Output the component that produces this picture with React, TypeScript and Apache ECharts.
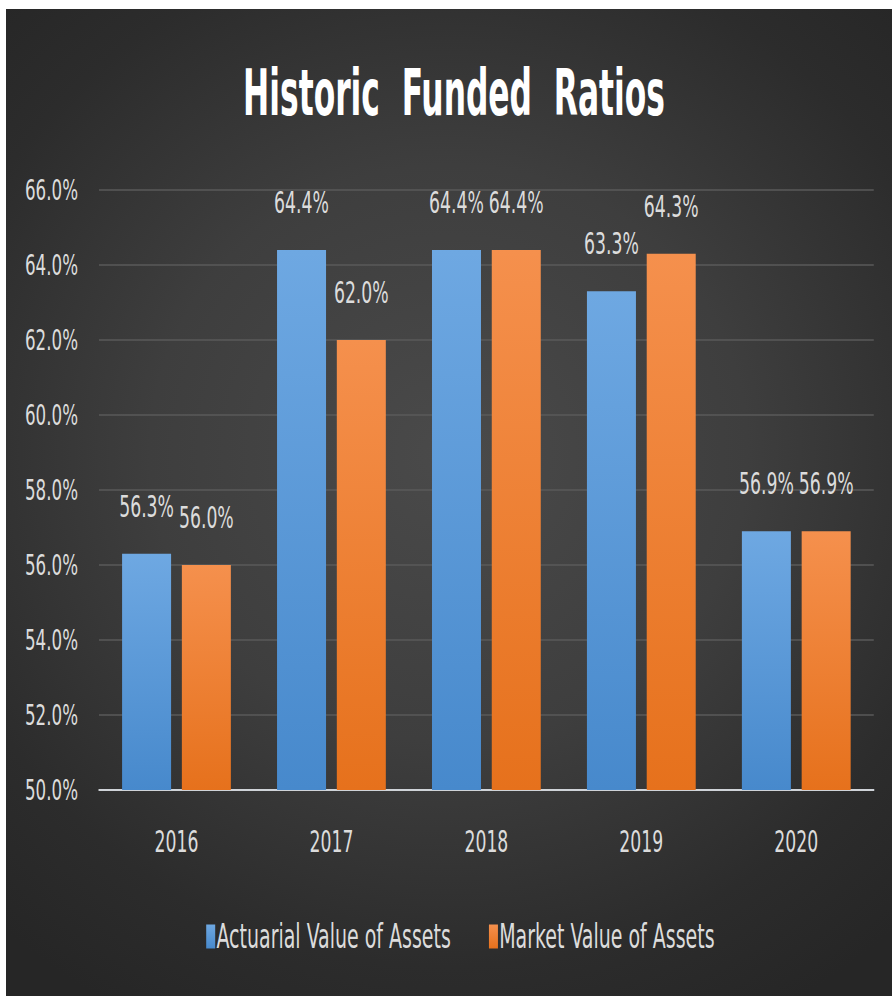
import React, { useEffect, useRef } from "react";
import * as echarts from "echarts";

const categories = ["2016", "2017", "2018", "2019", "2020"];
const actuarialValues = [56.3, 64.4, 64.4, 63.3, 56.9];
const marketValues = [56.0, 62.0, 64.4, 64.3, 56.9];
const seriesNames = ["Actuarial Value of Assets", "Market Value of Assets"];
const titleText = "Historic  Funded  Ratios";

// The reference uses a strongly condensed face; we render with DejaVu Sans Condensed
// and squeeze the whole chart horizontally with a CSS transform.
const SQUEEZE = 0.64;
const OUT_W = 886;
const OUT_H = 987;
const IN_W = Math.round(OUT_W / SQUEEZE);
const px = (v: number) => v / SQUEEZE; // convert an on-screen horizontal size to chart space

const FONT = "'DejaVu Sans Condensed', 'DejaVu Sans', sans-serif";
const LABEL_COLOR = "#dcdcdc";

export default function App() {
  const ref = useRef<HTMLDivElement | null>(null);

  useEffect(() => {
    if (!ref.current) return;
    const chart = echarts.init(ref.current, undefined, { renderer: "svg" });
    const pct = (v: number) => v.toFixed(1) + "%";
    const blue = new echarts.graphic.LinearGradient(0, 0, 0, 1, [
      { offset: 0, color: "#6ea8e2" },
      { offset: 1, color: "#4789cc" },
    ]);
    const orange = new echarts.graphic.LinearGradient(0, 0, 0, 1, [
      { offset: 0, color: "#f5904d" },
      { offset: 1, color: "#e6711c" },
    ]);
    const labelCfg = {
      show: true,
      position: "top" as const,
      distance: 32,
      color: LABEL_COLOR,
      fontFamily: FONT,
      fontSize: 30,
      formatter: (p: any) => pct(p.value),
    };
    chart.setOption({
      animation: false,
      backgroundColor: "transparent",
      graphic: [
        {
          type: "text",
          x: px(448),
          y: 84,
          scaleX: 0.85,
          style: {
            text: titleText,
            fill: "#ffffff",
            font: "bold 64px " + FONT,
            align: "center",
            verticalAlign: "middle",
            shadowColor: "rgba(0,0,0,0.8)",
            shadowOffsetX: 3,
            shadowOffsetY: 3,
            shadowBlur: 3,
          },
        },
      ],
      legend: {
        data: seriesNames,
        left: px(197),
        top: 906,
        itemWidth: px(9),
        itemHeight: 24,
        itemGap: px(38),
        icon: "rect",
        textStyle: { color: LABEL_COLOR, fontFamily: FONT, fontSize: 33, padding: [0, 0, 0, -3] },
      },
      grid: { left: px(93), right: px(18), top: 181, bottom: 206, containLabel: false },
      xAxis: {
        type: "category",
        data: categories,
        axisLine: { show: true, lineStyle: { color: "#cfd3d8", width: 2 } },
        axisTick: { show: false },
        axisLabel: { color: LABEL_COLOR, fontFamily: FONT, fontSize: 30, margin: 37 },
      },
      yAxis: {
        type: "value",
        min: 50,
        max: 66,
        interval: 2,
        axisLine: { show: false },
        axisTick: { show: false },
        splitLine: { lineStyle: { color: "#5a5a5a", width: 1.5 } },
        axisLabel: {
          color: LABEL_COLOR,
          fontFamily: FONT,
          fontSize: 29,
          margin: px(21),
          formatter: (v: number) => pct(v),
        },
      },
      series: [
        {
          name: seriesNames[0],
          type: "bar",
          data: actuarialValues,
          barWidth: px(49),
          barGap: "22%",
          itemStyle: { color: blue },
          label: labelCfg,
        },
        {
          name: seriesNames[1],
          type: "bar",
          data: marketValues,
          barWidth: px(49),
          barGap: "22%",
          itemStyle: { color: orange },
          label: labelCfg,
        },
      ],
    });
    return () => chart.dispose();
  }, []);

  return (
    <div
      style={{
        position: "absolute",
        left: 6,
        top: 9,
        width: OUT_W,
        height: OUT_H,
        overflow: "hidden",
        background:
          "radial-gradient(ellipse 75% 65% at 50% 45%, #4a4a4a 0%, #3e3e3e 45%, #2c2c2c 80%, #262626 100%)",
      }}
    >
      <div
        ref={ref}
        style={{
          width: IN_W,
          height: OUT_H,
          transform: `scaleX(${SQUEEZE})`,
          transformOrigin: "left top",
        }}
      />
    </div>
  );
}
